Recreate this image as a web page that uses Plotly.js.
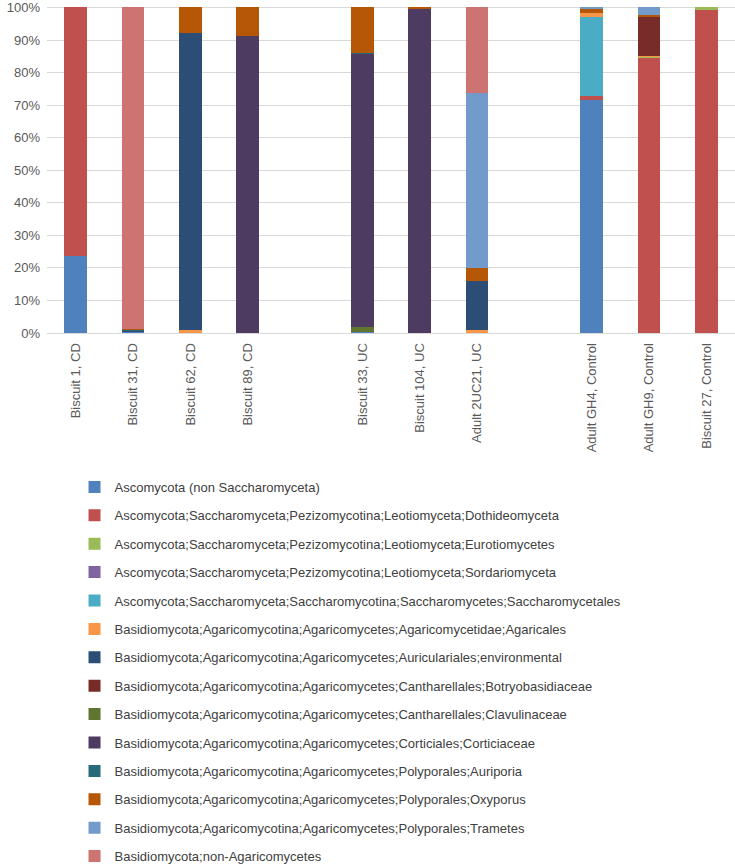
<!DOCTYPE html>
<html>
<head>
<meta charset="utf-8">
<script src="https://cdn.plot.ly/plotly-3.0.1.min.js"></script>
<style>html,body{margin:0;padding:0;background:#fff;}#chart{width:735px;height:866px;}</style>
</head>
<body>
<div id="chart"></div>
<script>
// Samples (bars), with empty slots between groups
const slots = ["Biscuit 1, CD", "Biscuit 31, CD", "Biscuit 62, CD", "Biscuit 89, CD", " ",
  "Biscuit 33, UC", "Biscuit 104, UC", "Adult 2UC21, UC", "  ",
  "Adult GH4, Control", "Adult GH9, Control", "Biscuit 27, Control"];
const samples = ["Biscuit 1, CD", "Biscuit 31, CD", "Biscuit 62, CD", "Biscuit 89, CD",
  "Biscuit 33, UC", "Biscuit 104, UC", "Adult 2UC21, UC",
  "Adult GH4, Control", "Adult GH9, Control", "Biscuit 27, Control"];

const seriesNames = [
  "Ascomycota (non Saccharomyceta)",
  "Ascomycota;Saccharomyceta;Pezizomycotina;Leotiomyceta;Dothideomyceta",
  "Ascomycota;Saccharomyceta;Pezizomycotina;Leotiomyceta;Eurotiomycetes",
  "Ascomycota;Saccharomyceta;Pezizomycotina;Leotiomyceta;Sordariomyceta",
  "Ascomycota;Saccharomyceta;Saccharomycotina;Saccharomycetes;Saccharomycetales",
  "Basidiomycota;Agaricomycotina;Agaricomycetes;Agaricomycetidae;Agaricales",
  "Basidiomycota;Agaricomycotina;Agaricomycetes;Auriculariales;environmental",
  "Basidiomycota;Agaricomycotina;Agaricomycetes;Cantharellales;Botryobasidiaceae",
  "Basidiomycota;Agaricomycotina;Agaricomycetes;Cantharellales;Clavulinaceae",
  "Basidiomycota;Agaricomycotina;Agaricomycetes;Corticiales;Corticiaceae",
  "Basidiomycota;Agaricomycotina;Agaricomycetes;Polyporales;Auriporia",
  "Basidiomycota;Agaricomycotina;Agaricomycetes;Polyporales;Oxyporus",
  "Basidiomycota;Agaricomycotina;Agaricomycetes;Polyporales;Trametes",
  "Basidiomycota;non-Agaricomycetes"
];

// Percent values per sample (order as in `samples`)
const ascoNonSacch   = [23.8, 0.2, 0,    0,    0.3,  0,    0,    71.5, 0,    0];
const dothideomyceta = [76.2, 0,   0,    0,    0,    0,    0,    1.2,  84.6, 99.3];
const eurotiomycetes = [0,    0,   0,    0,    0,    0,    0,    0,    0.2,  0.7];
const sordariomyceta = [0,    0,   0,    0,    0,    0,    0,    0,    0,    0];
const saccharomycet  = [0,    0,   0,    0,    0,    0,    0,    24.3, 0,    0];
const agaricales     = [0,    0,   0.8,  0,    0,    0,    1.0,  1.3,  0.3,  0];
const auriculariales = [0,    0.3, 91.5, 0,    0,    0,    15.0, 0,    0,    0];
const botryobasid    = [0,    0,   0,    0,    0,    0,    0,    0,    12.0, 0];
const clavulinaceae  = [0,    0,   0,    0,    1.5,  0,    0,    0,    0,    0];
const corticiaceae   = [0,    0,   0,    91.2, 84.0, 99.5, 0,    0,    0,    0];
const auriporia      = [0,    0.3, 0,    0,    0.3,  0,    0,    0,    0,    0];
const oxyporus       = [0,    0.4, 7.7,  8.8,  13.9, 0.5,  4.0,  1.2,  0.5,  0];
const trametes       = [0,    0,   0,    0,    0,    0,    53.8, 0.5,  2.4,  0];
const nonAgarico     = [0,    98.8,0,    0,    0,    0,    26.2, 0,    0,    0];

// Y tick values (percent)
const yTicks = [0, 10, 20, 30, 40, 50, 60, 70, 80, 90, 100];

const seriesValues = [ascoNonSacch, dothideomyceta, eurotiomycetes, sordariomyceta, saccharomycet,
  agaricales, auriculariales, botryobasid, clavulinaceae, corticiaceae, auriporia, oxyporus,
  trametes, nonAgarico];

const colors = ["#4F81BD", "#C0504D", "#9BBB59", "#8064A2", "#4BACC6", "#F79646", "#2C4D75",
  "#772C2A", "#5F7530", "#4D3B62", "#276A7C", "#B65708", "#729ACA", "#CD7371"];

const traces = seriesNames.map((name, i) => {
  const y = slots.map(s => {
    const k = samples.indexOf(s);
    if (k < 0) return null;
    const v = seriesValues[i][k];
    return v === 0 ? null : v;
  });
  return {
    type: "bar",
    name: name,
    x: slots,
    y: y,
    legendgroup: "g" + i,
    marker: {color: colors[i], line: {width: 0}},
    hoverinfo: "name+y"
  };
});

const layout = {
  width: 735,
  height: 866,
  barmode: "stack",
  bargap: 0.6,
  paper_bgcolor: "#ffffff",
  plot_bgcolor: "#ffffff",
  margin: {l: 47, r: 0, t: 0, b: 533},
  font: {family: "Liberation Sans, Arial, sans-serif", color: "#595959", size: 13},
  xaxis: {
    type: "category",
    categoryorder: "array",
    categoryarray: slots,
    tickangle: -90,
    tickfont: {size: 13, color: "#595959"},
    showline: true,
    linecolor: "#d9d9d9",
    linewidth: 1,
    ticks: "",
    ticklabelstandoff: 4,
    showgrid: false,
    automargin: false,
    range: [-0.5, 11.5]
  },
  yaxis: {
    range: [0, 102.3],
    tickmode: "array",
    tickvals: yTicks,
    ticktext: yTicks.map(v => v + "%"),
    tickfont: {size: 13, color: "#595959"},
    gridcolor: "#d9d9d9",
    gridwidth: 1,
    zeroline: false,
    showline: false,
    ticks: "",
    ticklabelstandoff: 6,
    automargin: false
  },
  legend: {
    orientation: "v",
    x: 0.04,
    xanchor: "left",
    yref: "container",
    y: 0.455,
    yanchor: "top",
    traceorder: "grouped",
    tracegroupgap: 8.5,
    font: {size: 13, color: "#404040"}
  },
  showlegend: true
};

Plotly.newPlot("chart", traces, layout, {displayModeBar: false, staticPlot: true});
</script>
</body>
</html>
